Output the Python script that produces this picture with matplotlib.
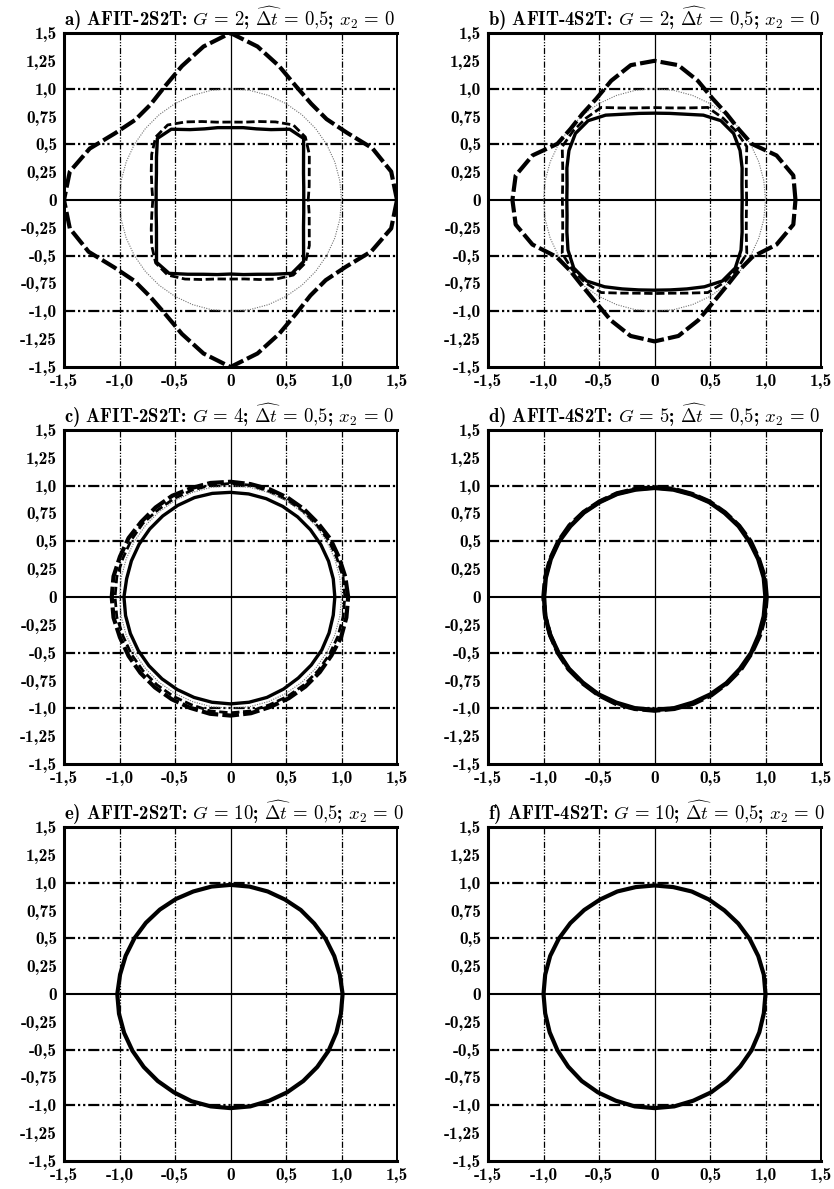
import numpy as np
import matplotlib
matplotlib.use("Agg")
import matplotlib.pyplot as plt

plt.rcParams['font.family'] = ['cmb10', 'cmr10', 'DejaVu Serif']
plt.rcParams['mathtext.fontset'] = 'cm'
plt.rcParams['axes.unicode_minus'] = False

# angles (deg) at which the radius of every closed curve is read
ANGLES = list(range(0, 360, 10))

# a) AFIT-2S2T, G = 2
A_OUTER = [1.50, 1.47, 1.36, 1.21, 1.13, 1.13, 1.18, 1.28, 1.40, 1.50, 1.40, 1.28,
           1.18, 1.12, 1.12, 1.20, 1.35, 1.47, 1.50, 1.47, 1.36, 1.21, 1.13, 1.13,
           1.18, 1.28, 1.40, 1.50, 1.40, 1.28, 1.18, 1.12, 1.12, 1.20, 1.35, 1.47]
A_DASHED = [0.70, 0.72, 0.755, 0.82, 0.88, 0.88, 0.81, 0.75, 0.71, 0.70, 0.71, 0.75,
            0.81, 0.88, 0.88, 0.82, 0.76, 0.72, 0.70, 0.72, 0.76, 0.82, 0.88, 0.88,
            0.82, 0.76, 0.72, 0.71, 0.72, 0.76, 0.82, 0.88, 0.88, 0.82, 0.755, 0.72]
A_SOLID = [0.66, 0.67, 0.70, 0.76, 0.86, 0.83, 0.73, 0.68, 0.66, 0.65, 0.66, 0.68,
           0.73, 0.83, 0.86, 0.77, 0.71, 0.68, 0.67, 0.68, 0.71, 0.77, 0.87, 0.86,
           0.77, 0.71, 0.68, 0.665, 0.68, 0.71, 0.77, 0.86, 0.86, 0.76, 0.70, 0.67]
A_REF = [1.00] * 36

# b) AFIT-4S2T, G = 2
B_OUTER = [1.27, 1.27, 1.17, 1.01, 0.99, 1.01, 1.05, 1.14, 1.23, 1.25, 1.23, 1.14,
           1.05, 1.01, 0.99, 1.01, 1.17, 1.27, 1.28, 1.27, 1.17, 1.02, 0.99, 1.01,
           1.06, 1.15, 1.24, 1.27, 1.24, 1.15, 1.06, 1.01, 0.99, 1.02, 1.17, 1.27]
B_DASHED = [0.83, 0.84, 0.88, 0.96, 0.96, 0.96, 0.96, 0.88, 0.84, 0.83, 0.84, 0.88,
            0.96, 0.96, 0.96, 0.96, 0.88, 0.84, 0.83, 0.84, 0.88, 0.96, 0.97, 0.97,
            0.96, 0.89, 0.85, 0.84, 0.85, 0.89, 0.96, 0.97, 0.97, 0.96, 0.88, 0.84]
B_SOLID = [0.79, 0.80, 0.84, 0.89, 0.93, 0.93, 0.88, 0.82, 0.79, 0.78, 0.79, 0.82,
           0.88, 0.93, 0.93, 0.89, 0.84, 0.80, 0.79, 0.80, 0.84, 0.90, 0.95, 0.95,
           0.90, 0.85, 0.82, 0.81, 0.82, 0.85, 0.90, 0.95, 0.95, 0.90, 0.84, 0.80]
B_REF = [1.00] * 36

# c) AFIT-2S2T, G = 4
C_OUTER = [1.06, 1.05, 1.04, 1.04, 1.03, 1.03, 1.03, 1.03, 1.03, 1.035, 1.04, 1.04,
           1.05, 1.05, 1.05, 1.06, 1.06, 1.07, 1.07, 1.07, 1.06, 1.06, 1.06, 1.06,
           1.06, 1.06, 1.065, 1.065, 1.06, 1.05, 1.05, 1.05, 1.05, 1.05, 1.06, 1.06]
C_DASHED = [1.03, 1.03, 1.02, 1.02, 1.01, 1.01, 1.01, 1.01, 1.02, 1.02, 1.02, 1.02,
            1.02, 1.02, 1.03, 1.03, 1.03, 1.04, 1.04, 1.04, 1.03, 1.03, 1.03, 1.03,
            1.03, 1.03, 1.04, 1.04, 1.04, 1.03, 1.03, 1.03, 1.03, 1.03, 1.03, 1.03]
C_SOLID = [0.94, 0.94, 0.94, 0.94, 0.94, 0.94, 0.94, 0.94, 0.94, 0.94, 0.945, 0.95,
           0.95, 0.95, 0.95, 0.95, 0.95, 0.95, 0.96, 0.96, 0.96, 0.96, 0.96, 0.96,
           0.96, 0.96, 0.96, 0.96, 0.96, 0.96, 0.955, 0.95, 0.95, 0.95, 0.945, 0.94]
C_REF = [1.00] * 36

# d) AFIT-4S2T, G = 5
D_OUTER = [1.01, 1.01, 1.0, 1.0, 0.995, 0.99, 0.99, 0.985, 0.985, 0.985, 0.985, 0.99,
           0.99, 0.995, 1.0, 1.0, 1.0, 1.0, 1.0, 1.0, 1.0, 1.005, 1.01, 1.01,
           1.015, 1.02, 1.02, 1.02, 1.02, 1.02, 1.02, 1.015, 1.015, 1.01, 1.01, 1.01]
D_SOLID = [1.0, 1.0, 0.995, 0.99, 0.99, 0.985, 0.985, 0.98, 0.98, 0.98, 0.98, 0.985,
           0.985, 0.99, 0.99, 0.995, 0.995, 0.995, 0.995, 1.0, 1.0, 1.0, 1.005, 1.005,
           1.01, 1.01, 1.015, 1.015, 1.015, 1.01, 1.01, 1.01, 1.005, 1.005, 1.0, 1.0]

# e) AFIT-2S2T, G = 10  /  f) AFIT-4S2T, G = 10
E_SOLID = [1.01, 1.0, 0.995, 0.99, 0.985, 0.985, 0.98, 0.98, 0.98, 0.98, 0.98, 0.98,
           0.985, 0.99, 0.995, 1.0, 1.005, 1.01, 1.02, 1.02, 1.02, 1.02, 1.02, 1.02,
           1.02, 1.025, 1.025, 1.025, 1.025, 1.02, 1.02, 1.02, 1.02, 1.02, 1.015, 1.01]
F_SOLID = [1.0, 1.0, 0.995, 0.99, 0.985, 0.98, 0.98, 0.98, 0.975, 0.975, 0.975, 0.98,
           0.98, 0.985, 0.99, 0.995, 1.0, 1.0, 1.0, 1.0, 1.005, 1.01, 1.015, 1.02,
           1.02, 1.02, 1.025, 1.025, 1.025, 1.02, 1.02, 1.015, 1.01, 1.01, 1.005, 1.0]

TITLES = [
    r"a) AFIT-2S2T: $G\,=\,2$; $\widehat{\Delta t}\,=\,0{,}5$; $x_2\,=\,0$",
    r"b) AFIT-4S2T: $G\,=\,2$; $\widehat{\Delta t}\,=\,0{,}5$; $x_2\,=\,0$",
    r"c) AFIT-2S2T: $G\,=\,4$; $\widehat{\Delta t}\,=\,0{,}5$; $x_2\,=\,0$",
    r"d) AFIT-4S2T: $G\,=\,5$; $\widehat{\Delta t}\,=\,0{,}5$; $x_2\,=\,0$",
    r"e) AFIT-2S2T: $G\,=\,10$; $\widehat{\Delta t}\,=\,0{,}5$; $x_2\,=\,0$",
    r"f) AFIT-4S2T: $G\,=\,10$; $\widehat{\Delta t}\,=\,0{,}5$; $x_2\,=\,0$",
]

X_TICKS = [-1.5, -1.0, -0.5, 0, 0.5, 1.0, 1.5]
X_LABELS = ["-1,5", "-1,0", "-0,5", "0", "0,5", "1,0", "1,5"]
Y_TICKS = [1.5, 1.25, 1.0, 0.75, 0.5, 0.25, 0, -0.25, -0.5, -0.75, -1.0, -1.25, -1.5]
Y_LABELS = ["1,5", "1,25", "1,0", "0,75", "0,5", "0,25", "0",
            "-0,25", "-0,5", "-0,75", "-1,0", "-1,25", "-1,5"]
GRID_AT = [-1.0, -0.5, 0.5, 1.0]

# line styles
STYLE = {
    "outer": dict(color="black", lw=3.0, ls=(0, (4, 1.0))),
    "dashed": dict(color="black", lw=2.0, ls=(0, (3, 1.3))),
    "solid": dict(color="black", lw=2.4, ls="-"),
    "ref": dict(color="0.45", lw=0.8, ls=(0, (1, 1.2))),
}
# panels d, e, f are drawn a little heavier
THICK = {3: 3.2, 4: 3.0, 5: 3.0}

panels = [
    [("ref", A_REF), ("outer", A_OUTER), ("dashed", A_DASHED), ("solid", A_SOLID)],
    [("ref", B_REF), ("outer", B_OUTER), ("dashed", B_DASHED), ("solid", B_SOLID)],
    [("outer", C_OUTER), ("dashed", C_DASHED), ("ref", C_REF), ("solid", C_SOLID)],
    [("outer", D_OUTER), ("solid", D_SOLID)],
    [("solid", E_SOLID)],
    [("solid", F_SOLID)],
]

W, H = 834, 1189
fig = plt.figure(figsize=(W / 100, H / 100), dpi=100)
lefts = [64, 488]
tops = [33, 430, 827]
aw, ah = 333, 334

th = np.deg2rad(ANGLES + [ANGLES[0]])
gls = (0, (5, 1.3, 1, 1.3, 1, 1.3))

for i, curves in enumerate(panels):
    l = lefts[i % 2]
    t = tops[i // 2]
    ax = fig.add_axes([l / W, 1 - (t + ah) / H, aw / W, ah / H])
    ax.set_xlim(-1.5, 1.5)
    ax.set_ylim(-1.5, 1.5)

    for g in GRID_AT:
        ax.axhline(g, color="black", lw=1.6, ls=gls, zorder=1)
        ax.axvline(g, color="black", lw=0.9, ls=gls, zorder=1)
    ax.axhline(0, color="black", lw=1.5, zorder=1)
    ax.axvline(0, color="black", lw=0.9, zorder=1)

    for kind, r in curves:
        st = dict(STYLE[kind])
        if i in THICK:
            st["lw"] = THICK[i]
        rr = np.array(r + [r[0]])
        ax.plot(rr * np.cos(th), rr * np.sin(th), solid_capstyle="butt",
                dash_capstyle="butt", solid_joinstyle="round", zorder=3, **st)

    ax.set_xticks(X_TICKS)
    ax.set_xticklabels(X_LABELS)
    ax.set_yticks(Y_TICKS)
    ax.set_yticklabels(Y_LABELS)
    ax.tick_params(length=0, labelsize=12.5)
    ax.tick_params(axis="x", pad=5)
    ax.tick_params(axis="y", pad=5)
    for side in ["left", "bottom", "top"]:
        ax.spines[side].set_linewidth(2.2)
    ax.spines["right"].set_linewidth(1.4)
    ax.set_title(TITLES[i], loc="left", fontsize=13.5, pad=2)

fig.savefig("out.png", dpi=100)
